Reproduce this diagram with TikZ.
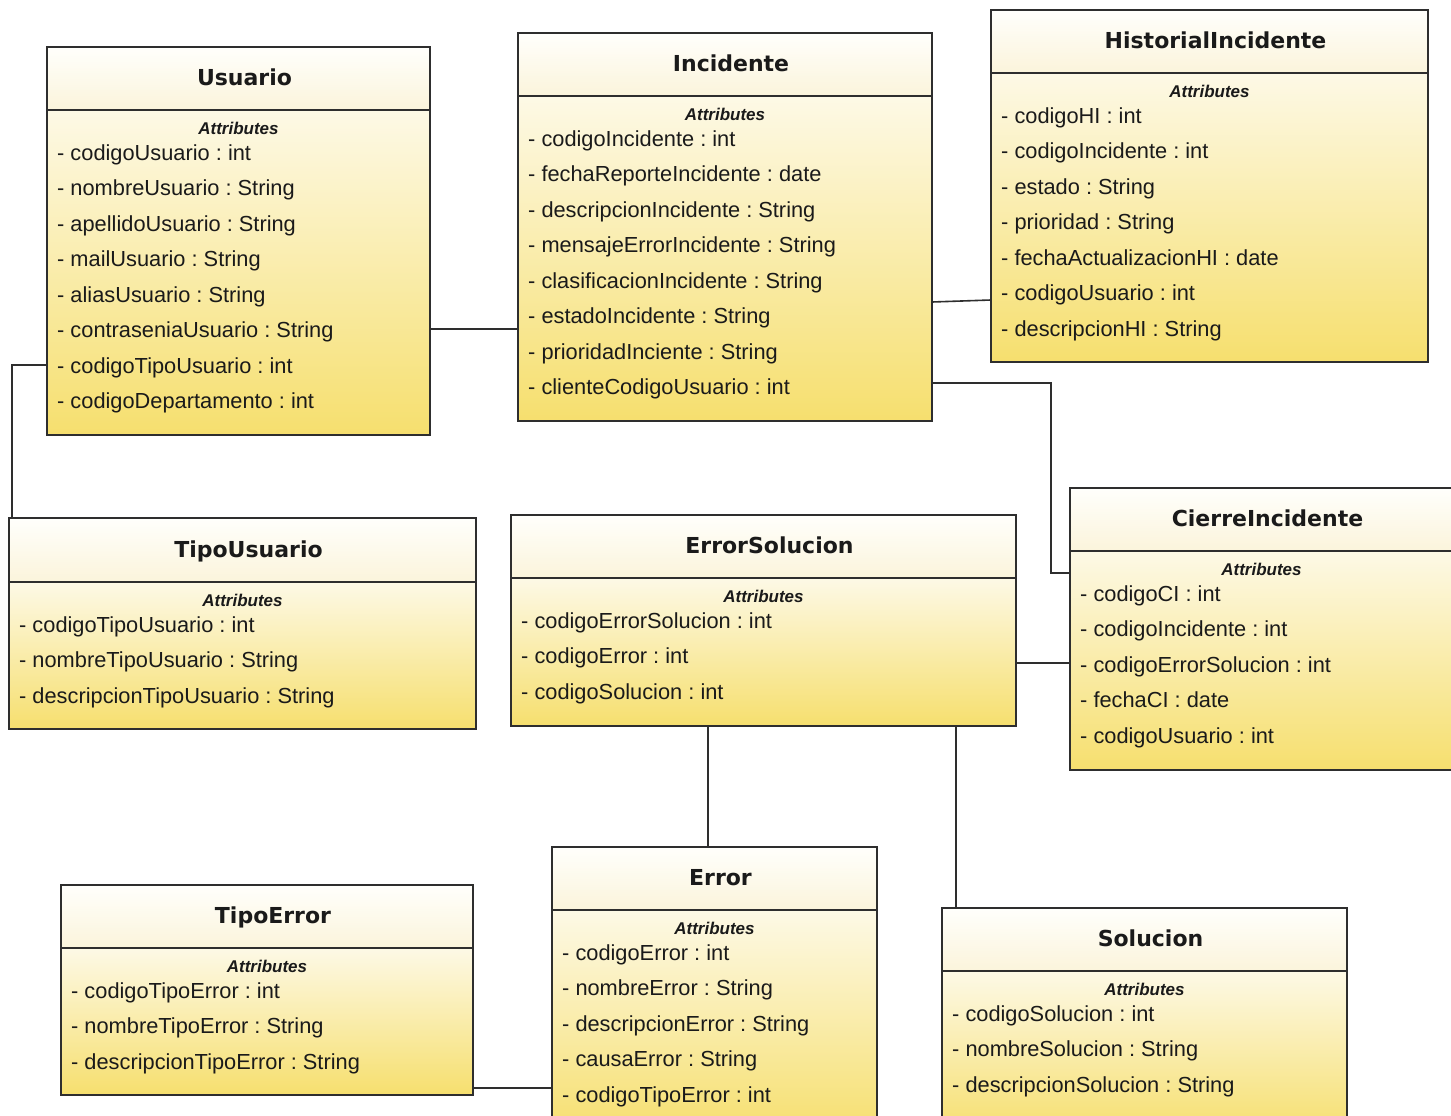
\documentclass[tikz,border=0pt]{standalone}
\usepackage{fontspec}
\usetikzlibrary{calc}
\newfontfamily\clsfont{DejaVu Sans}
\newfontfamily\attrfont{Liberation Sans}
\frenchspacing

\definecolor{edge}{HTML}{2E2E2E}
\definecolor{ink}{HTML}{1A1A1A}
\definecolor{headTop}{HTML}{FFFFFC}
\definecolor{headBot}{HTML}{FBF4DB}
\definecolor{bodyTop}{HTML}{FDF9E6}
\definecolor{bodyBot}{HTML}{F6DF6E}

\tikzset{
  headbox/.style={rectangle, draw=edge, line width=1.6pt, inner sep=0pt, outer sep=0pt,
    anchor=north west, top color=headTop, bottom color=headBot},
  bodybox/.style={rectangle, draw=edge, line width=1.6pt, inner sep=0pt, outer sep=0pt,
    anchor=north west, top color=bodyTop, bottom color=bodyBot},
  titletext/.style={anchor=base, inner sep=0pt, text=ink,
    font=\clsfont\bfseries\fontsize{22pt}{26pt}\selectfont},
  sectiontext/.style={anchor=base, inner sep=0pt, text=ink,
    font=\attrfont\bfseries\itshape\fontsize{17pt}{20pt}\selectfont},
  attrtext/.style={anchor=base west, inner sep=0pt, text=ink,
    font=\attrfont\fontsize{21.8pt}{26pt}\selectfont\frenchspacing},
  link/.style={draw=edge, line width=1.6pt}
}

% #1 name, #2 left, #3 top, #4 right, #5 header bottom, #6 bottom, #7 title, #8 attribute list
\newcommand\umlclass[8]{%
  \pgfmathsetmacro\ucW{#4-#2}%
  \pgfmathsetmacro\ucHH{#5-#3}%
  \pgfmathsetmacro\ucBH{#6-#5}%
  \pgfmathsetmacro\ucCX{(#2+#4)/2}%
  \pgfmathsetmacro\ucTY{(#3+#5)/2+7}%
  \pgfmathsetmacro\ucSY{#5+24}%
  \node[bodybox, minimum width=\ucW pt, minimum height=\ucBH pt] (#1B) at (#2,#5) {};
  \node[headbox, minimum width=\ucW pt, minimum height=\ucHH pt] (#1H) at (#2,#3) {};
  \node[titletext] (#1T) at (\ucCX+6,\ucTY) {#7};
  \node[sectiontext] (#1S) at (\ucCX,\ucSY) {Attributes};
  \foreach \ucA [count=\ucI] in {#8} {
    \pgfmathsetmacro\ucAY{#5+50+35.5*(\ucI-1)}
    \node[attrtext] (#1A\ucI) at (#2+10,\ucAY) {\ucA};
  }%
}

\begin{document}
\begin{tikzpicture}[x=1pt,y=-1pt]
\fill[white] (0,0) rectangle (1451,1116);
\useasboundingbox (0,0) rectangle (1451,1116);
\clip (0,0) rectangle (1451,1116);

\umlclass{usuario}{47}{47}{430}{110}{435}{Usuario}{%
  - codigoUsuario : int,
  - nombreUsuario : String,
  - apellidoUsuario : String,
  - mailUsuario : String,
  - aliasUsuario : String,
  - contraseniaUsuario : String,
  - codigoTipoUsuario : int,
  - codigoDepartamento : int}

\umlclass{incidente}{518}{33}{932}{96}{421}{Incidente}{%
  - codigoIncidente : int,
  - fechaReporteIncidente : date,
  - descripcionIncidente : String,
  - mensajeErrorIncidente : String,
  - clasificacionIncidente : String,
  - estadoIncidente : String,
  - prioridadInciente : String,
  - clienteCodigoUsuario : int}

\umlclass{historial}{991}{10}{1428}{73}{362}{HistorialIncidente}{%
  - codigoHI : int,
  - codigoIncidente : int,
  - estado : String,
  - prioridad : String,
  - fechaActualizacionHI : date,
  - codigoUsuario : int,
  - descripcionHI : String}

\umlclass{tipoUsuario}{9}{518}{476}{582}{729}{TipoUsuario}{%
  - codigoTipoUsuario : int,
  - nombreTipoUsuario : String,
  - descripcionTipoUsuario : String}

\umlclass{errorSolucion}{511}{515}{1016}{578}{726}{ErrorSolucion}{%
  - codigoErrorSolucion : int,
  - codigoError : int,
  - codigoSolucion : int}

\umlclass{cierre}{1070}{488}{1453}{551}{770}{CierreIncidente}{%
  - codigoCI : int,
  - codigoIncidente : int,
  - codigoErrorSolucion : int,
  - fechaCI : date,
  - codigoUsuario : int}

\umlclass{tipoError}{61}{885}{473}{948}{1095}{TipoError}{%
  - codigoTipoError : int,
  - nombreTipoError : String,
  - descripcionTipoError : String}

\umlclass{error}{552}{847}{877}{910}{1135}{Error}{%
  - codigoError : int,
  - nombreError : String,
  - descripcionError : String,
  - causaError : String,
  - codigoTipoError : int}

\umlclass{solucion}{942}{908}{1347}{971}{1135}{Solucion}{%
  - codigoSolucion : int,
  - nombreSolucion : String,
  - descripcionSolucion : String}

% associations
\coordinate (bendCI) at (1051,573);
\path[link] (usuarioB.east |- 0,329) -- (incidenteB.west |- 0,329);
\path[link] (incidenteB.east |- 0,302) -- (historialB.west |- 0,300);
\path[link] (incidenteB.east |- 0,383) -| (bendCI) -- (cierreB.west |- bendCI);
\path[link] (usuarioB.west |- 0,365) -| (tipoUsuarioH.north -| 12,0);
\path[link] (errorSolucionB.east |- 0,663) -- (cierreB.west |- 0,663);
\path[link] (errorSolucionB.south -| 708,0) -- (errorH.north -| 708,0);
\path[link] (errorSolucionB.south -| 956,0) -- (solucionH.north -| 956,0);
\path[link] (tipoErrorB.east |- 0,1088) -- (errorB.west |- 0,1088);
\end{tikzpicture}
\end{document}
